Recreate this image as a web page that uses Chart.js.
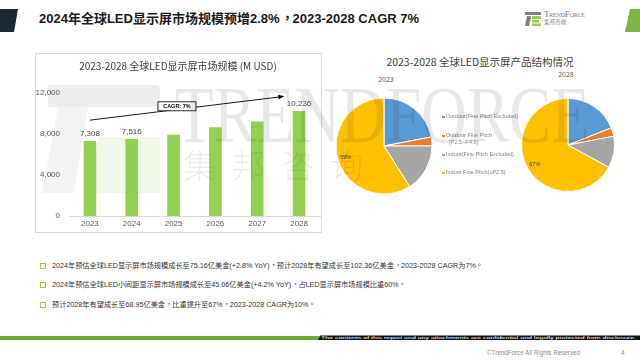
<!DOCTYPE html>
<html><head><meta charset="utf-8">
<script src="https://cdn.jsdelivr.net/npm/chart.js@4.4.1/dist/chart.umd.min.js"></script>
<style>
html,body{margin:0;padding:0;background:#fff;}
body{width:640px;height:360px;position:relative;overflow:hidden;font-family:'Liberation Sans','Noto Sans CJK SC',sans-serif;}
.abs{position:absolute;}
.tc{display:inline-block;transform:translate(0.32em,-0.36em);}
#title{left:39px;top:10px;font-size:13px;font-weight:bold;color:#1a1a1a;white-space:nowrap;line-height:18px;}
#barBox{left:35px;top:53px;width:285px;height:178px;border:1px solid #d9d9d9;}
#pieTitle{left:380px;top:55px;width:200px;text-align:center;font-family:'Noto Sans CJK SC',sans-serif;font-size:10.5px;line-height:14px;color:#404040;white-space:nowrap;}
.yr{font-family:'Noto Sans CJK SC',sans-serif;font-size:7px;line-height:10px;color:#595959;}
.leg{font-size:5.5px;line-height:7px;color:#7f7f7f;white-space:nowrap;}
.mk{position:absolute;left:-4px;top:2.5px;width:2.5px;height:2.5px;}
.note{left:52px;font-size:7.2px;line-height:10px;color:#333;white-space:nowrap;}
.sq{left:40px;width:3.5px;height:3.5px;border:1.2px solid #92d050;}
</style></head>
<body>
<svg class="abs" style="left:0;top:0" width="640" height="360">
  <polygon points="0,9 18,9 14,32 0,32" fill="#1c2833"/>
  <polygon points="630,9 640,9 640,32 625,32" fill="#7cb342"/>
  <rect x="0" y="336" width="319" height="4" fill="#6fa82f"/>
  <polygon points="320,335.5 640,335.5 640,340 318,340" fill="#111"/>
  <text x="321" y="339.3" font-size="4.2" fill="#fff" textLength="315" lengthAdjust="spacingAndGlyphs">The contents of this report and any attachments are confidential and legally protected from disclosure.</text>
  <text x="487" y="354.5" font-size="6.5" fill="#8c8c8c" textLength="93" lengthAdjust="spacingAndGlyphs">©TrendForce All Rights Reserved</text>
  <text x="621" y="354.5" font-size="6.5" fill="#8c8c8c">4</text>
  <rect x="525" y="12" width="16" height="3" fill="#7f7f7f"/>
  <polygon points="527,16 531,16 529,26 525,26" fill="#7f7f7f"/>
  <rect x="532" y="16" width="9" height="3" fill="#92d050"/>
  <rect x="532" y="20" width="7" height="2.5" fill="#92d050"/>
  <rect x="532" y="23.5" width="9" height="2.5" fill="#92d050"/>
</svg>
<div id="title" class="abs">2024年全球LED显示屏市场规模预增2.8%<span class="tc">，</span>2023-2028 CAGR 7%</div>
<div class="abs" style="left:544px;top:9px;font-family:'Liberation Serif',serif;font-variant:small-caps;font-size:9px;line-height:10px;color:#808080;letter-spacing:-0.2px">TrendForce</div>
<div class="abs" style="left:544px;top:19px;font-family:'Noto Sans CJK SC';font-size:5.5px;line-height:7px;color:#808080">集邦咨询</div>

<div id="barBox" class="abs"><canvas id="bar" width="285" height="178"></canvas></div>

<div id="pieTitle" class="abs">2023-2028 全球LED显示屏产品结构情况</div>
<div class="abs yr" style="left:376px;top:74px;width:20px;text-align:center">2023</div>
<div class="abs yr" style="left:556px;top:69px;width:20px;text-align:center">2028</div>
<canvas id="pie23" class="abs" style="left:329px;top:91px" width="110" height="110"></canvas>
<canvas id="pie28" class="abs" style="left:513px;top:90px" width="110" height="110"></canvas>
<div id="legend"></div>

<div class="abs sq" style="top:263px"></div>
<div class="abs note" style="top:261px">2024年预估全球LED显示屏市场规模成长至75.16亿美金(+2.8% YoY)<span class="tc">，</span>预计2028年有望成长至102.36亿美金<span class="tc">，</span>2023-2028 CAGR为7%<span class="tc">。</span></div>
<div class="abs sq" style="top:282px"></div>
<div class="abs note" style="top:280px">2024年预估全球LED小间距显示屏市场规模成长至45.06亿美金(+4.2% YoY)<span class="tc">，</span>占LED显示屏市场规模比重60%<span class="tc">。</span></div>
<div class="abs sq" style="top:302px"></div>
<div class="abs note" style="top:300px">预计2028年有望成长至68.95亿美金<span class="tc">，</span>比重提升至67%<span class="tc">，</span>2023-2028 CAGR为10%<span class="tc">。</span></div>

<svg class="abs" style="left:0;top:0;pointer-events:none" width="640" height="360">
  <path d="M48 85 H156 Q160 85 160 89 V107 H48 Z" fill="rgba(0,0,0,0.07)"/>
  <path d="M58 107 H88 L74 193 H42 Z" fill="rgba(0,0,0,0.045)"/>
  <path d="M98 137 H160 V193 H88 Z" fill="rgba(146,208,80,0.12)"/>
  <text x="175" y="142" font-family="Liberation Serif" font-size="80" textLength="415" lengthAdjust="spacingAndGlyphs" fill="rgba(0,0,0,0.09)">TRENDFORCE</text>
  <text x="183" y="178" font-family="Noto Sans CJK SC" font-weight="300" font-size="33" textLength="180" lengthAdjust="spacing" fill="rgba(0,0,0,0.08)">集邦咨询</text>
</svg>

<script>
const years = ['2023', '2024', '2025', '2026', '2027', '2028'];
const marketSize = [7308, 7516, 7930, 8670, 9230, 10236];
const showValue = [true, true, false, false, false, true];
const yTicks = [0, 4000, 8000, 12000];
const segments = ['Outdoor(Fine Pitch Excluded)', 'Outdoor Fine Pitch\n(P2.5~P4.0)', 'Indoor(Fine Pitch Excluded)', 'Indoor Fine Pitch(≤P2.5)'];
const segColors = ['#5B9BD5', '#ED7D31', '#A5A5A5', '#FFC000'];
const share2023 = [22, 3, 16, 59];
const share2028 = [19, 3, 11, 67];
const labeledSlice = 3;
const cagrText = 'CAGR: 7%';
const cagrFrom = [0, 9350];
const cagrTo = [4.6, 11650];
const cagrBoxAt = [2.08, 10700];

Chart.defaults.font.family = "'Liberation Sans','Noto Sans CJK SC',sans-serif";
const fmt = v => Number(v).toLocaleString('en-US');

const legTops = [113, 132, 151, 169];
const leg = document.getElementById('legend');
segments.forEach((s, i) => {
  const d = document.createElement('div');
  d.className = 'abs leg';
  d.style.left = '446px'; d.style.top = legTops[i] + 'px';
  const parts = s.split('\n');
  d.innerHTML = '<span class="mk" style="background:' + segColors[i] + '"></span>' + parts[0] +
    (parts[1] ? '<br><span style="padding-left:3px">' + parts[1] + '</span>' : '');
  leg.appendChild(d);
});

const valuePlugin = {
  id: 'valueLabels',
  afterDatasetsDraw(chart) {
    const ctx = chart.ctx, meta = chart.getDatasetMeta(0);
    ctx.save();
    ctx.font = "8px 'Liberation Sans'";
    ctx.fillStyle = '#404040';
    ctx.textAlign = 'center'; ctx.textBaseline = 'middle';
    meta.data.forEach((b, i) => { if (showValue[i]) ctx.fillText(fmt(marketSize[i]), b.x, b.y - 7); });
    ctx.restore();
  }
};
const cagrPlugin = {
  id: 'cagr',
  afterDatasetsDraw(chart) {
    const {ctx, scales: {x, y}} = chart;
    const x0 = x.getPixelForTick(0), step = x.getPixelForTick(1) - x0;
    const px = v => x0 + v * step;
    const x1 = px(cagrFrom[0]), y1 = y.getPixelForValue(cagrFrom[1]);
    const x2 = px(cagrTo[0]), y2 = y.getPixelForValue(cagrTo[1]);
    ctx.save();
    ctx.strokeStyle = '#000'; ctx.fillStyle = '#000'; ctx.lineWidth = 0.9;
    ctx.beginPath(); ctx.moveTo(x1, y1); ctx.lineTo(x2, y2); ctx.stroke();
    const a = Math.atan2(y2 - y1, x2 - x1);
    ctx.beginPath();
    ctx.moveTo(x2 + Math.cos(a) * 2, y2 + Math.sin(a) * 2);
    ctx.lineTo(x2 - Math.cos(a) * 4 - Math.sin(a) * 2.3, y2 - Math.sin(a) * 4 + Math.cos(a) * 2.3);
    ctx.lineTo(x2 - Math.cos(a) * 4 + Math.sin(a) * 2.3, y2 - Math.sin(a) * 4 - Math.cos(a) * 2.3);
    ctx.closePath(); ctx.fill();
    const bx = px(cagrBoxAt[0]), by = y.getPixelForValue(cagrBoxAt[1]);
    const w = 38, h = 9;
    ctx.fillStyle = '#fff'; ctx.fillRect(bx - w / 2, by - h / 2, w, h);
    ctx.lineWidth = 0.8; ctx.strokeRect(bx - w / 2, by - h / 2, w, h);
    ctx.fillStyle = '#000'; ctx.font = "bold 5.5px 'Liberation Sans'";
    ctx.textAlign = 'center'; ctx.textBaseline = 'middle';
    ctx.fillText(cagrText, bx, by + 0.5);
    ctx.restore();
  }
};

new Chart(document.getElementById('bar'), {
  type: 'bar',
  data: { labels: years, datasets: [{ data: marketSize, backgroundColor: '#92D050', barPercentage: 0.3, categoryPercentage: 1 }] },
  options: {
    responsive: false, animation: false, devicePixelRatio: 1,
    layout: { padding: { left: 0, right: 1, top: 0, bottom: 0 } },
    plugins: {
      legend: { display: false }, tooltip: { enabled: false },
      title: { display: true, text: '2023-2028 全球LED显示屏市场规模 (M USD)', color: '#404040',
        font: { size: 10, weight: 'normal', family: "'Noto Sans CJK SC',sans-serif" }, padding: { top: 6, bottom: 21 } }
    },
    scales: {
      x: { grid: { display: false, drawTicks: false }, border: { display: true, color: '#d9d9d9', width: 1 },
        ticks: { color: '#595959', font: { size: 8 }, padding: 3 },
        afterFit: s => { s.height = 16; } },
      y: { min: 0, max: 12000, grid: { display: false, drawTicks: false }, border: { display: false },
        afterBuildTicks: s => { s.ticks = yTicks.map(v => ({ value: v })); },
        ticks: { color: '#595959', font: { size: 8 }, padding: 9, callback: v => fmt(v) },
        afterFit: s => { s.width = 33; } }
    }
  },
  plugins: [valuePlugin, cagrPlugin]
});

const pieLabel = {
  id: 'pieLabel',
  afterDatasetsDraw(chart) {
    const arc = chart.getDatasetMeta(0).data[labeledSlice];
    const mid = (arc.startAngle + arc.endAngle) / 2, r = arc.outerRadius * 0.83;
    const ctx = chart.ctx;
    ctx.save();
    ctx.font = "5.5px 'Liberation Sans'"; ctx.fillStyle = '#404040';
    ctx.textAlign = 'center'; ctx.textBaseline = 'middle';
    ctx.fillText(chart.data.datasets[0].data[labeledSlice] + '%', arc.x + Math.cos(mid) * r, arc.y + Math.sin(mid) * r);
    ctx.restore();
  }
};
function makePie(id, data, radius) {
  new Chart(document.getElementById(id), {
    type: 'pie',
    data: { labels: segments, datasets: [{ data: data, backgroundColor: segColors, borderColor: '#fff', borderWidth: 1 }] },
    options: { responsive: false, animation: false, devicePixelRatio: 1, radius: radius,
      plugins: { legend: { display: false }, tooltip: { enabled: false } } },
    plugins: [pieLabel]
  });
}
makePie('pie23', share2023, 48);
makePie('pie28', share2028, 46.5);
</script>
</body></html>
